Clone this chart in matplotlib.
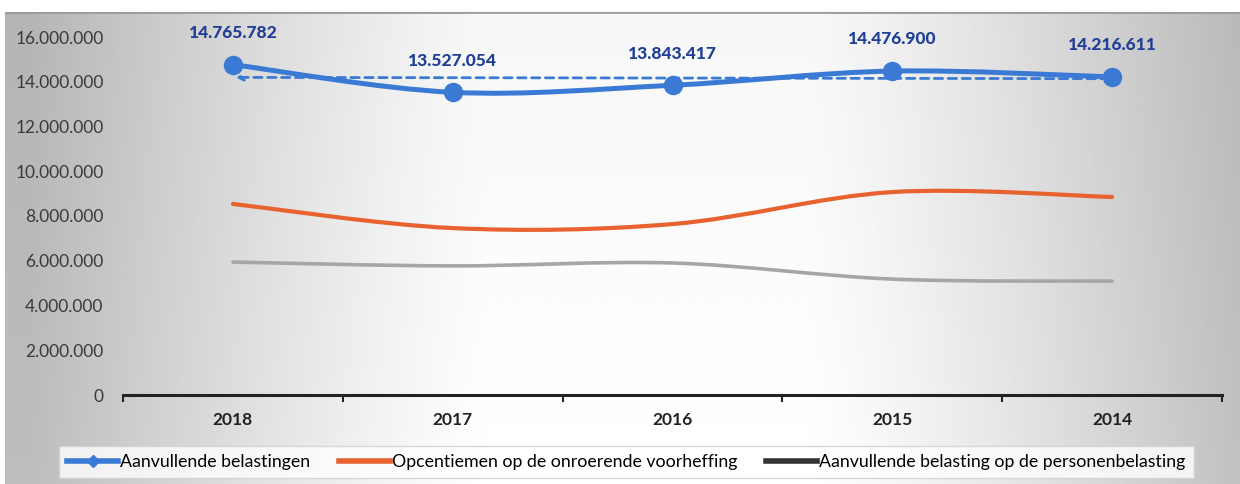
import numpy as np
import matplotlib
matplotlib.use("Agg")
import matplotlib.pyplot as plt
from matplotlib.path import Path
from matplotlib.patches import PathPatch
from matplotlib.lines import Line2D
from matplotlib.ticker import FuncFormatter, FixedLocator

plt.rcParams['font.family'] = ['Lato', 'DejaVu Sans']

years = ["2018", "2017", "2016", "2015", "2014"]
aanvullende = [14765782, 13527054, 13843417, 14476900, 14216611]
opcentiemen = [8540000, 7460000, 7640000, 9070000, 8850000]
personenbelasting = [5940000, 5770000, 5900000, 5180000, 5090000]

series_names = ["Aanvullende belastingen",
                "Opcentiemen op de onroerende voorheffing",
                "Aanvullende belasting op de personenbelasting"]

BLUE = "#3B7AD4"
ORANGE = "#E8622F"
GRAY = "#A6A6A6"
LABEL_BLUE = "#1F3E96"


def fmt(v):
    return f"{v:,.0f}".replace(",", ".")


def smooth_path(xs, ys):
    # Excel-like smoothed line: Catmull-Rom segments as cubic Beziers
    pts = np.column_stack([xs, ys]).astype(float)
    n = len(pts)
    verts = [pts[0]]
    codes = [Path.MOVETO]
    for i in range(n - 1):
        p0 = pts[max(i - 1, 0)]
        p1 = pts[i]
        p2 = pts[i + 1]
        p3 = pts[min(i + 2, n - 1)]
        verts += [p1 + (p2 - p0) / 6, p2 - (p3 - p1) / 6, p2]
        codes += [Path.CURVE4] * 3
    return Path(verts, codes)


fig = plt.figure(figsize=(12.4, 4.84), dpi=100)

# scanned-looking background
bg = fig.add_axes([5 / 1240, 0, 1 - 5 / 1240, (484 - 12) / 484])
xx = np.linspace(0, 1, 600)
yy = np.linspace(0, 1, 200)
X, Y = np.meshgrid(xx, yy)
d = np.clip((np.abs(X - 0.52) - 0.13) / 0.37, 0, 1) ** 1.2
img = 1 - 0.26 * d - 0.03 * (1 - Y)
bg.imshow(img, cmap="gray", vmin=0, vmax=1, aspect="auto", extent=[0, 1, 0, 1])
bg.axhline(1, color="#9a9a9a", lw=2)
bg.set_axis_off()
bg.set_zorder(-1)

ax = fig.add_axes([123 / 1240, 1 - 395 / 484, 1099 / 1240, 358 / 484])
ax.set_facecolor("none")
x = np.arange(len(years))

ax.add_patch(PathPatch(smooth_path(x, personenbelasting), fill=False, edgecolor=GRAY,
                       lw=2.6, capstyle="round"))
ax.add_patch(PathPatch(smooth_path(x, opcentiemen), fill=False, edgecolor=ORANGE,
                       lw=3.0, capstyle="round"))
ax.add_patch(PathPatch(smooth_path(x, aanvullende), fill=False, edgecolor=BLUE,
                       lw=3.6, capstyle="round", zorder=3))
ax.plot(x, aanvullende, "o", color=BLUE, ms=13, zorder=4)

# trend arrow (dashed) pointing back to 2018
k, b = np.polyfit(x, aanvullende, 1)
ax.annotate("", xy=(x[0], k * x[0] + b), xytext=(x[-1], k * x[-1] + b),
            arrowprops=dict(arrowstyle="->", color=BLUE, lw=2.0, linestyle=(0, (3, 2))),
            zorder=3)

for xi, v in zip(x, aanvullende):
    ax.annotate(fmt(v), (xi, v), xytext=(0, 17), textcoords="offset points",
                ha="center", va="bottom", fontsize=12.5, fontweight="black", color=LABEL_BLUE)

ax.set_xlim(-0.5, len(years) - 0.5)
ax.set_ylim(0, 16000000)
ax.set_yticks(np.arange(0, 16000001, 2000000))
ax.yaxis.set_major_formatter(FuncFormatter(lambda v, p: fmt(v)))
ax.tick_params(axis="y", length=0, labelsize=12.5, labelcolor="#3a3a3a", pad=14)

ax.xaxis.set_major_locator(FixedLocator(np.arange(-0.5, len(years), 1.0)))
ax.xaxis.set_minor_locator(FixedLocator(x))
ax.set_xticklabels([], minor=False)
ax.set_xticklabels(years, minor=True)
ax.tick_params(axis="x", which="major", length=5, width=1.5, color="#222222", direction="out")
ax.tick_params(axis="x", which="minor", length=0, labelsize=12.5, labelcolor="#222222", pad=12)
for lab in ax.get_xticklabels(minor=True):
    lab.set_fontweight("bold")

for s in ["left", "top", "right"]:
    ax.spines[s].set_visible(False)
ax.spines["bottom"].set_linewidth(2.2)
ax.spines["bottom"].set_color("#222222")

handles = [
    Line2D([], [], color=BLUE, lw=4, marker="D", ms=6),
    Line2D([], [], color=ORANGE, lw=4),
    Line2D([], [], color="#333333", lw=4),
]
leg = fig.legend(handles, series_names, loc="center", bbox_to_anchor=(0.505, 1 - 462 / 484),
                 ncol=3, frameon=True, fontsize=12.8, handlelength=2.9, handletextpad=0.1,
                 columnspacing=1.6, borderpad=0.45, fancybox=False)
leg.get_frame().set_facecolor((1, 1, 1, 0.35))
leg.get_frame().set_edgecolor("#d0d0d0")

fig.savefig("out.png", dpi=100)
